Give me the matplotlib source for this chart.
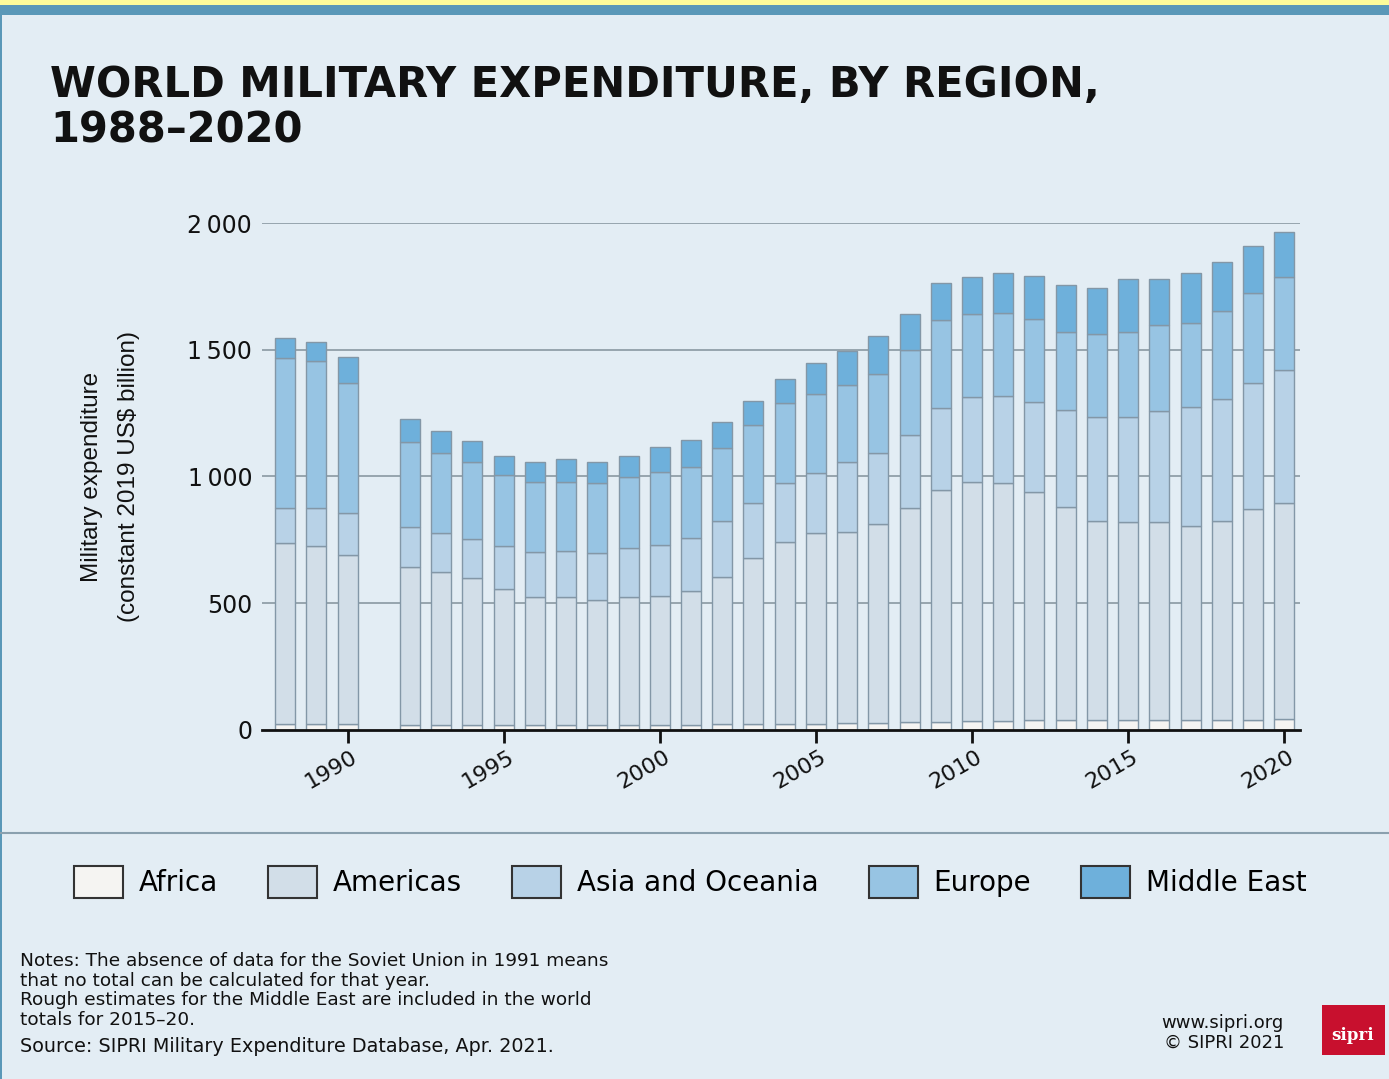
import matplotlib.pyplot as plt
from matplotlib.patches import Rectangle, Patch
from matplotlib.transforms import ScaledTranslation

years = [1988, 1989, 1990] + list(range(1992, 2021))
africa = [22, 22, 22, 18, 18, 18, 18, 18, 19, 19, 20, 20, 21, 22, 23, 24,
          25, 26, 27, 30, 32, 34, 36, 38, 40, 41, 41, 40, 40, 40, 41, 43]
americas = [717, 704, 668, 626, 604, 580, 537, 505, 504, 494, 503, 509, 527, 580, 654, 716,
            753, 756, 784, 845, 915, 946, 940, 902, 841, 783, 778, 779, 765, 786, 831, 854]
asia_oceania = [136, 149, 165, 158, 154, 155, 172, 178, 183, 184, 194, 201, 208, 222, 217, 233,
                237, 274, 280, 289, 322, 333, 343, 355, 381, 412, 417, 439, 468, 478, 498, 523]
europe = [591, 582, 515, 335, 315, 303, 278, 279, 274, 276, 280, 286, 283, 287, 309, 316,
          310, 305, 313, 335, 348, 327, 325, 326, 309, 325, 335, 340, 331, 350, 355, 368]
middle_east = [79, 75, 103, 90, 88, 85, 76, 78, 88, 85, 84, 102, 105, 105, 95, 94,
               121, 135, 150, 141, 145, 149, 160, 171, 184, 181, 207, 180, 197, 193, 184, 178]

region_names = ['Africa', 'Americas', 'Asia and Oceania', 'Europe', 'Middle East']
region_colors = ['#f5f4f2', '#d2dee8', '#b8d2e7', '#97c4e3', '#6eb0db']
y_ticks = [0, 500, 1000, 1500, 2000]
y_tick_labels = ['0', '500', '1\u2009000', '1\u2009500', '2\u2009000']
x_ticks = [1990, 1995, 2000, 2005, 2010, 2015, 2020]

bg = '#e3edf4'
fig = plt.figure(figsize=(13.89, 10.79), dpi=100, facecolor=bg)
ax = fig.add_axes([0.1886, 0.3235, 0.7474, 0.4698], facecolor=bg)

series = [africa, americas, asia_oceania, europe, middle_east]
bottom = [0] * len(years)
for vals, col in zip(series, region_colors):
    ax.bar(years, vals, bottom=bottom, width=0.64, color=col,
           edgecolor='#8397a7', linewidth=1, zorder=3)
    bottom = [b + v for b, v in zip(bottom, vals)]

ax.set_xlim(1987.26, 2020.51)
ax.set_ylim(0, 2000)
ax.set_yticks(y_ticks)
ax.set_yticklabels(y_tick_labels)
ax.set_xticks(x_ticks)
ax.set_xticklabels([str(x) for x in x_ticks], rotation=30, ha='center')

for s in ['top', 'right', 'left']:
    ax.spines[s].set_visible(False)
ax.spines['bottom'].set_linewidth(2)
ax.spines['bottom'].set_color('#111111')
ax.spines['bottom'].set_zorder(5)
ax.tick_params(axis='y', length=0, pad=7, labelsize=17, labelcolor='#111111')
ax.tick_params(axis='x', length=9, width=2, color='#111111', pad=3,
               labelsize=16, labelcolor='#111111')
offset = ScaledTranslation(-16 / 100, 0, fig.dpi_scale_trans)
for lbl in ax.get_xticklabels():
    lbl.set_transform(lbl.get_transform() + offset)
for y in y_ticks[1:]:
    ax.axhline(y, color='#8a98a2', linewidth=1.2, zorder=1)

ax.set_ylabel('Military expenditure\n(constant 2019 US$ billion)',
              family=['Liberation Sans Narrow', 'Liberation Sans', 'DejaVu Sans'],
              fontsize=17.5, linespacing=1.9, labelpad=34, color='#111111')

fig.text(0.036, 0.90, 'WORLD MILITARY EXPENDITURE, BY REGION,\n1988\u20132020',
         fontsize=30, fontweight='bold', va='center', ha='left',
         linespacing=1.1, color='#111111')

# frame bands and separator
fig.patches.append(Rectangle((0, 1 - 5 / 1079), 1, 5 / 1079, transform=fig.transFigure,
                             facecolor='#fdfb9a', edgecolor='none'))
fig.patches.append(Rectangle((0, 1 - 15 / 1079), 1, 10 / 1079, transform=fig.transFigure,
                             facecolor='#5a98b8', edgecolor='none'))
fig.patches.append(Rectangle((0, 0), 2 / 1389, 1 - 15 / 1079, transform=fig.transFigure,
                             facecolor='#5a98b8', edgecolor='none'))
fig.add_artist(plt.Line2D([0, 1], [1 - 833 / 1079] * 2, transform=fig.transFigure,
                          color='#8aa0ae', linewidth=1.5))

handles = [Patch(facecolor=c, edgecolor='#333333', linewidth=1.5, label=n)
           for n, c in zip(region_names, region_colors)]
fig.legend(handles=handles, loc='center', bbox_to_anchor=(0.497, 1 - 882 / 1079),
           ncol=5, frameon=False, fontsize=20, handlelength=1.76, handleheight=1.37,
           handletextpad=0.58, columnspacing=1.8)

notes = ('Notes: The absence of data for the Soviet Union in 1991 means\n'
         'that no total can be calculated for that year.\n'
         'Rough estimates for the Middle East are included in the world\n'
         'totals for 2015\u201320.')
fig.text(20 / 1389, 1 - 952 / 1079, notes, fontsize=13.3, va='top', ha='left',
         linespacing=1.12, color='#111111')
fig.text(20 / 1389, 1 - 1047 / 1079, 'Source: SIPRI Military Expenditure Database, Apr. 2021.',
         fontsize=13.8, va='center', ha='left', color='#111111')
fig.text(1284 / 1389, 1 - 1023 / 1079, 'www.sipri.org', fontsize=13, ha='right',
         va='center', color='#111111')
fig.text(1284 / 1389, 1 - 1043 / 1079, '\u00a9 SIPRI 2021', fontsize=13, ha='right',
         va='center', color='#111111')
fig.patches.append(Rectangle((1322 / 1389, 1 - 1055 / 1079), 63 / 1389, 50 / 1079,
                             transform=fig.transFigure, facecolor='#c8102e',
                             edgecolor='none'))
fig.text(1353 / 1389, 1 - 1036 / 1079, 'sipri', fontsize=12, fontweight='bold',
         family='DejaVu Serif', ha='center', va='center', color='white')

fig.savefig('out.png', dpi=100, facecolor=bg)
